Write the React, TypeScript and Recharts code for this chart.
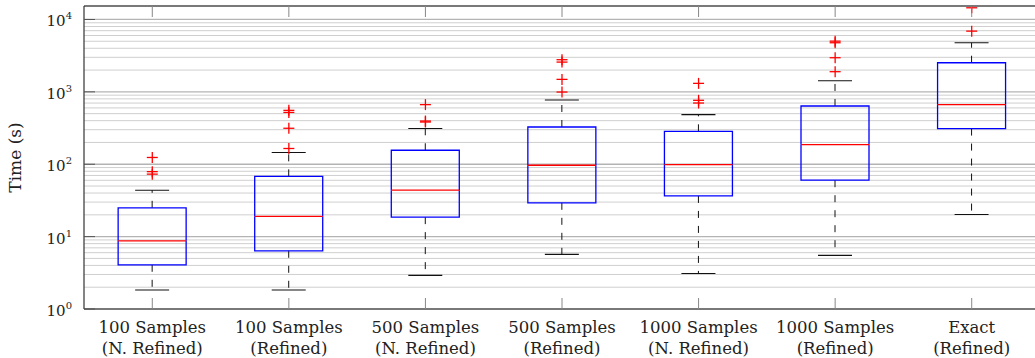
import React from "react";
import {
  ComposedChart,
  Bar,
  Scatter,
  XAxis,
  YAxis,
  CartesianGrid,
} from "recharts";

// ---- data ----
const labelLineOne = [
  "100 Samples",
  "100 Samples",
  "500 Samples",
  "500 Samples",
  "1000 Samples",
  "1000 Samples",
  "Exact",
];
const labelLineTwo = [
  "(N. Refined)",
  "(Refined)",
  "(N. Refined)",
  "(Refined)",
  "(N. Refined)",
  "(Refined)",
  "(Refined)",
];
const whiskerLow = [1.83, 1.83, 2.91, 5.68, 3.1, 5.5, 20.2];
const quartile1 = [4.08, 6.37, 18.6, 29.3, 36.5, 60.2, 311];
const medians = [8.75, 19, 43.8, 96.9, 99, 187, 666];
const quartile3 = [25, 68, 156, 327, 285, 638, 2525];
const whiskerHigh = [43.8, 145, 311, 771, 484, 1426, 4770];
const outliers = [
  [124, 79, 73],
  [165, 314, 520, 555],
  [383, 395, 666],
  [994, 1487, 2577, 2780],
  [701, 764, 1310],
  [1899, 2961, 4770, 5020],
  [6900, 14500],
];
const majorTicks = [1, 10, 100, 1000, 10000];
const minorTicks = [
  2, 3, 4, 5, 6, 7, 8, 9,
  20, 30, 40, 50, 60, 70, 80, 90,
  200, 300, 400, 500, 600, 700, 800, 900,
  2000, 3000, 4000, 5000, 6000, 7000, 8000, 9000,
];
const yDomain = [1, 15350];

const categoryNames = labelLineOne.map((a, i) => `${a} ${labelLineTwo[i]}`);

const rows = categoryNames.map((name, i) => ({
  name,
  lowWhisker: [whiskerLow[i], quartile1[i]],
  lowBox: [quartile1[i], medians[i]],
  highBox: [medians[i], quartile3[i]],
  highWhisker: [quartile3[i], whiskerHigh[i]],
}));

const outlierRows = categoryNames.flatMap((name, i) =>
  outliers[i].map((value) => ({ name, value }))
);

// ---- styles ----
const BLUE = "#0000ff";
const RED = "#ff0000";
const BLACK = "#111111";
const FONT = "DejaVu Serif";

const norm = (p: any) => {
  const top = Math.min(p.y, p.y + p.height);
  const bot = Math.max(p.y, p.y + p.height);
  return { x: p.x, w: p.width, top, bot, cx: p.x + p.width / 2 };
};

const LowWhiskerShape = (p: any) => {
  const { w, top, bot, cx } = norm(p);
  return (
    <g>
      <line x1={cx} y1={top} x2={cx} y2={bot} stroke={BLACK} strokeWidth={1} strokeDasharray="7 8" />
      <line x1={cx - w / 4} y1={bot} x2={cx + w / 4} y2={bot} stroke={BLACK} strokeWidth={1.1} />
    </g>
  );
};

const HighWhiskerShape = (p: any) => {
  const { w, top, bot, cx } = norm(p);
  return (
    <g>
      <line x1={cx} y1={bot} x2={cx} y2={top} stroke={BLACK} strokeWidth={1} strokeDasharray="7 8" />
      <line x1={cx - w / 4} y1={top} x2={cx + w / 4} y2={top} stroke={BLACK} strokeWidth={1.1} />
    </g>
  );
};

const LowBoxShape = (p: any) => {
  const { x, w, top, bot } = norm(p);
  return (
    <path
      d={`M${x},${top} L${x},${bot} L${x + w},${bot} L${x + w},${top}`}
      fill="none"
      stroke={BLUE}
      strokeWidth={1.3}
    />
  );
};

const HighBoxShape = (p: any) => {
  const { x, w, top, bot } = norm(p);
  return (
    <g>
      <path
        d={`M${x},${bot} L${x},${top} L${x + w},${top} L${x + w},${bot}`}
        fill="none"
        stroke={BLUE}
        strokeWidth={1.3}
      />
      <line x1={x} y1={bot} x2={x + w} y2={bot} stroke={RED} strokeWidth={1.3} />
    </g>
  );
};

const OutlierShape = (p: any) => {
  const { cx, cy } = p;
  const a = 5.5;
  return (
    <g stroke={RED} strokeWidth={1.3}>
      <line x1={cx - a} y1={cy} x2={cx + a} y2={cy} />
      <line x1={cx} y1={cy - a} x2={cx} y2={cy + a} />
    </g>
  );
};

const YTick = (p: any) => {
  const { x, y, payload } = p;
  const exp = Math.round(Math.log10(payload.value));
  return (
    <g>
      <line x1={x + 12} y1={y} x2={x + 23} y2={y} stroke="#555" strokeWidth={1} />
      <text x={x} y={y + 7} textAnchor="end" fontSize={15} fontFamily={FONT} fill="#222">
        10
        <tspan dy={-7} fontSize={10}>
          {exp}
        </tspan>
      </text>
    </g>
  );
};

const MinorLeftTick = (p: any) => {
  const { x, y } = p;
  return <line x1={x} y1={y} x2={x + 6} y2={y} stroke="#777" strokeWidth={1} />;
};
const MajorRightTick = (p: any) => {
  const { x, y } = p;
  return <line x1={x} y1={y} x2={x - 11} y2={y} stroke="#555" strokeWidth={1} />;
};
const MinorRightTick = (p: any) => {
  const { x, y } = p;
  return <line x1={x} y1={y} x2={x - 6} y2={y} stroke="#777" strokeWidth={1} />;
};

const XTick = (p: any) => {
  const { x, y, index } = p;
  return (
    <g>
      <line x1={x} y1={y} x2={x} y2={y - 11} stroke="#888" strokeWidth={1} />
      <text x={x} y={y + 23.7} textAnchor="middle" fontSize={16.5} fontFamily={FONT} fill="#222">
        {labelLineOne[index]}
      </text>
      <text x={x} y={y + 44.7} textAnchor="middle" fontSize={16.5} fontFamily={FONT} fill="#222">
        {labelLineTwo[index]}
      </text>
    </g>
  );
};

const TopTick = (p: any) => {
  const { x, y } = p;
  return <line x1={x} y1={y} x2={x} y2={y + 11} stroke="#888" strokeWidth={1} />;
};

const YLabel = (p: any) => {
  const vb = p.viewBox || { x: 0, y: 6, width: 84, height: 303 };
  const cx = vb.x + 15;
  const cy = vb.y + vb.height / 2;
  return (
    <text
      x={cx}
      y={cy}
      transform={`rotate(-90, ${cx}, ${cy})`}
      textAnchor="middle"
      dominantBaseline="central"
      fontSize={17}
      fontFamily={FONT}
      fill="#222"
    >
      Time (s)
    </text>
  );
};

export default function App() {
  return (
    <div
      style={{
        position: "fixed",
        left: 0,
        top: 0,
        width: 1035,
        height: 358,
        overflow: "hidden",
        background: "#fff",
      }}
    >
      <ComposedChart
        width={1045}
        height={358}
        data={rows}
        margin={{ top: 5, right: 5, bottom: 0, left: 0 }}
        barCategoryGap="25%"
        style={{ fontFamily: FONT }}
      >
        <XAxis
          xAxisId="main"
          dataKey="name"
          type="category"
          height={49}
          axisLine={{ stroke: "#333", strokeWidth: 1.2 }}
          tickLine={false}
          tickSize={0}
          tickMargin={0}
          interval={0}
          tick={<XTick />}
        />
        <XAxis
          xAxisId="top"
          dataKey="name"
          type="category"
          orientation="top"
          height={1}
          axisLine={{ stroke: "#333", strokeWidth: 1.2 }}
          tickLine={false}
          tickSize={0}
          tickMargin={0}
          interval={0}
          tick={<TopTick />}
        />
        <XAxis xAxisId="b" dataKey="name" type="category" hide height={0} />
        <XAxis xAxisId="c" dataKey="name" type="category" hide height={0} />
        <XAxis xAxisId="d" dataKey="name" type="category" hide height={0} />
        <XAxis
          xAxisId="out"
          dataKey="name"
          type="category"
          hide
          height={0}
          allowDuplicatedCategory={false}
        />
        <YAxis
          yAxisId={0}
          type="number"
          scale="log"
          domain={yDomain}
          allowDataOverflow
          ticks={majorTicks}
          interval={0}
          width={84}
          axisLine={{ stroke: "#333", strokeWidth: 1.2 }}
          tickLine={false}
          tickSize={0}
          tickMargin={12}
          tick={<YTick />}
          label={<YLabel />}
        />
        <YAxis
          yAxisId="minorLeft"
          type="number"
          scale="log"
          domain={yDomain}
          allowDataOverflow
          ticks={minorTicks}
          interval={0}
          width={0}
          axisLine={false}
          tickLine={false}
          tickSize={0}
          tickMargin={0}
          tick={<MinorLeftTick />}
        />
        <YAxis
          yAxisId="right"
          orientation="right"
          type="number"
          scale="log"
          domain={yDomain}
          allowDataOverflow
          ticks={majorTicks}
          interval={0}
          width={0}
          axisLine={{ stroke: "#333", strokeWidth: 1.2 }}
          tickLine={false}
          tickSize={0}
          tickMargin={0}
          tick={<MajorRightTick />}
        />
        <YAxis
          yAxisId="minorRight"
          orientation="right"
          type="number"
          scale="log"
          domain={yDomain}
          allowDataOverflow
          ticks={minorTicks}
          interval={0}
          width={0}
          axisLine={false}
          tickLine={false}
          tickSize={0}
          tickMargin={0}
          tick={<MinorRightTick />}
        />
        <CartesianGrid
          xAxisId="main"
          yAxisId="minorLeft"
          vertical={false}
          stroke="#cfcfcf"
          strokeWidth={1}
        />
        <CartesianGrid
          xAxisId="main"
          yAxisId={0}
          vertical={false}
          stroke="#b4b4b4"
          strokeWidth={1.3}
        />
        <Bar xAxisId="b" dataKey="lowWhisker" shape={<LowWhiskerShape />} isAnimationActive={false} />
        <Bar xAxisId="c" dataKey="highWhisker" shape={<HighWhiskerShape />} isAnimationActive={false} />
        <Bar xAxisId="main" dataKey="lowBox" shape={<LowBoxShape />} isAnimationActive={false} />
        <Bar xAxisId="d" dataKey="highBox" shape={<HighBoxShape />} isAnimationActive={false} />
        <Scatter
          xAxisId="out"
          data={outlierRows}
          dataKey="value"
          shape={<OutlierShape />}
          isAnimationActive={false}
        />
      </ComposedChart>
    </div>
  );
}
